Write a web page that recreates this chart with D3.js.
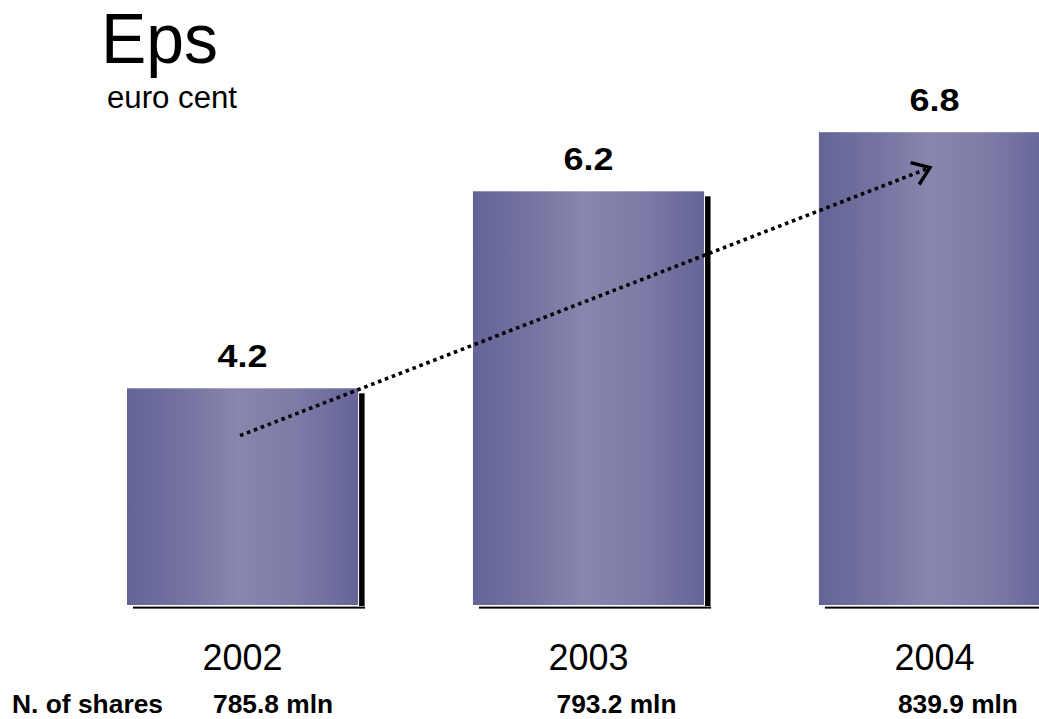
<!DOCTYPE html>
<html>
<head>
<meta charset="utf-8">
<script src="https://cdn.jsdelivr.net/npm/d3@7"></script>
<style>
  html, body { margin: 0; padding: 0; background: #ffffff; }
  svg { display: block; }
  text { font-family: "Liberation Sans", Arial, Helvetica, sans-serif; fill: #000; }
</style>
</head>
<body>
<svg id="chart" width="1039" height="719"></svg>
<script>
// Earnings per share, euro cent
const years = ["2002", "2003", "2004"];
const eps = [4.2, 6.2, 6.8];
const epsLabels = ["4.2", "6.2", "6.8"];
const shares = ["785.8 mln", "793.2 mln", "839.9 mln"];

// Trend arrow, in data units (year, value)
const trendFrom = { year: "2002", value: 3.72 };
const trendTo = { year: "2004", value: 6.44 };

const svg = d3.select("#chart");
const W = 1039, H = 719;

const x = d3.scaleBand()
  .domain(years)
  .range([127, 1050])
  .paddingInner(0.332)
  .paddingOuter(0);

const y = d3.scaleLinear()
  .domain([2, 7])
  .range([605, 605 - 5 * 98.5]);

// Horizontal light-in-the-middle gradient for the bars
const defs = svg.append("defs");
const grad = defs.append("linearGradient")
  .attr("id", "barGrad")
  .attr("x1", "0%").attr("x2", "100%")
  .attr("y1", "0%").attr("y2", "0%");
grad.append("stop").attr("offset", "0%").attr("stop-color", "#646498");
grad.append("stop").attr("offset", "22%").attr("stop-color", "#72719f");
grad.append("stop").attr("offset", "48%").attr("stop-color", "#8886ad");
grad.append("stop").attr("offset", "72%").attr("stop-color", "#7e7ca7");
grad.append("stop").attr("offset", "100%").attr("stop-color", "#646498");

defs.append("clipPath").attr("id", "frame")
  .append("rect").attr("x", 0).attr("y", 0).attr("width", W).attr("height", H);

const plot = svg.append("g").attr("clip-path", "url(#frame)");

const data = years.map((yr, i) => ({ year: yr, value: eps[i], label: epsLabels[i], shares: shares[i] }));

// Drop shadow on the right side of each bar
plot.selectAll("rect.shadow")
  .data(data)
  .join("rect")
  .attr("class", "shadow")
  .attr("x", d => x(d.year) + x.bandwidth() + 1)
  .attr("y", d => y(d.value) + 5)
  .attr("width", 5.5)
  .attr("height", d => y(2) - y(d.value) - 4)
  .attr("fill", "#000");

// Base line under each bar
plot.selectAll("rect.base")
  .data(data)
  .join("rect")
  .attr("class", "base")
  .attr("x", d => x(d.year) + 6)
  .attr("y", y(2) + 1.6)
  .attr("width", x.bandwidth() + 1)
  .attr("height", 2)
  .attr("fill", "#000");

// Bars
plot.selectAll("rect.bar")
  .data(data)
  .join("rect")
  .attr("class", "bar")
  .attr("x", d => x(d.year))
  .attr("y", d => y(d.value))
  .attr("width", x.bandwidth())
  .attr("height", d => y(2) - y(d.value))
  .attr("fill", "url(#barGrad)");

// Value labels above bars
svg.selectAll("text.val")
  .data(data)
  .join("text")
  .attr("class", "val")
  .attr("x", d => x(d.year) + x.bandwidth() / 2)
  .attr("y", d => y(d.value) - 21)
  .attr("text-anchor", "middle")
  .attr("font-size", 32)
  .attr("font-weight", "bold")
  .attr("textLength", 50)
  .attr("lengthAdjust", "spacingAndGlyphs")
  .text(d => d.label);

// Dotted trend arrow
const ax1 = x(trendFrom.year) + x.bandwidth() / 2 - 2.5;
const ay1 = y(trendFrom.value);
const ax2 = x(trendTo.year) + x.bandwidth() / 2 - 4.5;
const ay2 = y(trendTo.value);
const ang = Math.atan2(ay2 - ay1, ax2 - ax1);
svg.append("line")
  .attr("x1", ax1).attr("y1", ay1)
  .attr("x2", ax2 - 4 * Math.cos(ang)).attr("y2", ay2 - 4 * Math.sin(ang))
  .attr("stroke", "#000")
  .attr("stroke-width", 3.6)
  .attr("stroke-dasharray", "3.6 3.8");
const headLen = 20, headAng = 36 * Math.PI / 180;
const back = ang + Math.PI;
svg.append("path")
  .attr("d", d3.line()([
    [ax2 + headLen * Math.cos(back - headAng), ay2 + headLen * Math.sin(back - headAng)],
    [ax2, ay2],
    [ax2 + headLen * Math.cos(back + headAng), ay2 + headLen * Math.sin(back + headAng)]
  ]))
  .attr("fill", "none")
  .attr("stroke", "#000")
  .attr("stroke-width", 3.4)
  .attr("stroke-linejoin", "miter");

// Year labels
svg.selectAll("text.year")
  .data(data)
  .join("text")
  .attr("class", "year")
  .attr("x", d => x(d.year) + x.bandwidth() / 2)
  .attr("y", 670)
  .attr("text-anchor", "middle")
  .attr("font-size", 37)
  .attr("textLength", 80)
  .attr("lengthAdjust", "spacingAndGlyphs")
  .text(d => d.year);

// Number of shares row
svg.append("text")
  .attr("x", 12)
  .attr("y", 713)
  .attr("font-size", 26)
  .attr("font-weight", "bold")
  .attr("textLength", 151)
  .attr("lengthAdjust", "spacingAndGlyphs")
  .text("N. of shares");

svg.selectAll("text.shares")
  .data(data)
  .join("text")
  .attr("class", "shares")
  .attr("x", (d, i) => x(d.year) + x.bandwidth() / 2 + [30.5, 28, 23.5][i])
  .attr("y", 713)
  .attr("text-anchor", "middle")
  .attr("font-size", 26)
  .attr("font-weight", "bold")
  .attr("textLength", 120)
  .attr("lengthAdjust", "spacingAndGlyphs")
  .text(d => d.shares);

// Title
svg.append("text")
  .attr("x", 101)
  .attr("y", 63)
  .attr("font-size", 70)
  .attr("textLength", 117)
  .attr("lengthAdjust", "spacingAndGlyphs")
  .text("Eps");

svg.append("text")
  .attr("x", 107)
  .attr("y", 108)
  .attr("font-size", 31)
  .attr("textLength", 130)
  .attr("lengthAdjust", "spacingAndGlyphs")
  .text("euro cent");
</script>
</body>
</html>
